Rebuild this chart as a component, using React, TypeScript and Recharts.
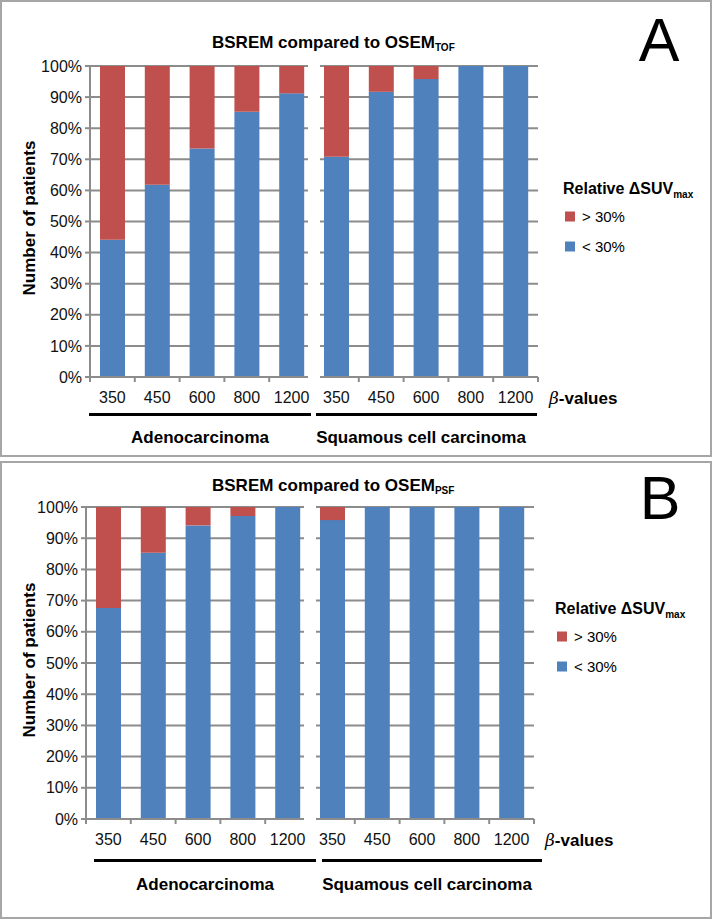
import React from "react";
import { BarChart, Bar, XAxis, YAxis, CartesianGrid } from "recharts";

// beta values, same order in both tumour groups
const BETAS = ["350", "450", "600", "800", "1200"];
const GROUPS = ["Adenocarcinoma", "Squamous cell carcinoma"];
const Y_TICKS = [0, 10, 20, 30, 40, 50, 60, 70, 80, 90, 100];

// panel A: BSREM vs OSEM TOF (% of patients)
const A_ADENO_LOW = [44.1, 61.8, 73.5, 85.3, 91.2];
const A_ADENO_HIGH = [55.9, 38.2, 26.5, 14.7, 8.8];
const A_SQUAM_LOW = [70.8, 91.7, 95.8, 100, 100];
const A_SQUAM_HIGH = [29.2, 8.3, 4.2, 0, 0];

// panel B: BSREM vs OSEM PSF
const B_ADENO_LOW = [67.6, 85.3, 94.1, 97.1, 100];
const B_ADENO_HIGH = [32.4, 14.7, 5.9, 2.9, 0];
const B_SQUAM_LOW = [95.8, 100, 100, 100, 100];
const B_SQUAM_HIGH = [4.2, 0, 0, 0, 0];

const BLUE = "#4F81BD";
const RED = "#C0504D";
const GRID = "#8c8c8c";
const SANS = "'Liberation Sans', Arial, sans-serif";
const TICK_SIZE = 5;
const TICK_MARGIN = 10;

function buildRows(adLow: number[], adHigh: number[], sqLow: number[], sqHigh: number[]) {
  const rows: any[] = [];
  BETAS.forEach((b, i) => rows.push({ key: "ad-" + b, label: b, low: adLow[i], high: adHigh[i] }));
  BETAS.forEach((b, i) => rows.push({ key: "sq-" + b, label: b, low: sqLow[i], high: sqHigh[i] }));
  return rows;
}

const PANELS = [
  {
    letter: "A", sub: "TOF", top: 0, height: 457,
    rows: buildRows(A_ADENO_LOW, A_ADENO_HIGH, A_SQUAM_LOW, A_SQUAM_HIGH),
    plotLeft: 90, plotRight: 538, plotTop: 66, plotBottom: 377,
    titleY: 43, letterX: 659, letterY: 40, legendX: 563, legendY: 190,
    groupLines: [[89, 311], [316, 537]], lineY: 414, groupX: [200, 421], groupY: 438, yLabelY: 218,
  },
  {
    letter: "B", sub: "PSF", top: 461, height: 458,
    rows: buildRows(B_ADENO_LOW, B_ADENO_HIGH, B_SQUAM_LOW, B_SQUAM_HIGH),
    plotLeft: 86, plotRight: 534, plotTop: 507, plotBottom: 819,
    titleY: 486, letterX: 660, letterY: 498, legendX: 555, legendY: 610,
    groupLines: [[94, 316], [322, 542]], lineY: 860, groupX: [205, 427], groupY: 885, yLabelY: 660,
  },
];

function Panel({ p }: { p: any }) {
  const chartTop = p.plotTop - 60;
  const chartW = 560;
  const chartH = p.plotBottom - chartTop + 43;
  const step = (p.plotRight - p.plotLeft) / p.rows.length;
  const gapX = p.plotLeft + step * BETAS.length;

  const renderTick = (props: any) => {
    const { x, y, payload, index } = props;
    const half = payload && payload.offset ? payload.offset : step / 2;
    const ay = y - TICK_SIZE - TICK_MARGIN;
    return (
      <g>
        {index !== BETAS.length && (
          <line x1={x - half} x2={x - half} y1={ay} y2={ay + TICK_SIZE} stroke={GRID} strokeWidth={2} />
        )}
        {index === p.rows.length - 1 && (
          <line x1={x + half} x2={x + half} y1={ay} y2={ay + TICK_SIZE} stroke={GRID} strokeWidth={2} />
        )}
        <text x={x} y={y} dy="0.71em" textAnchor="middle" fontFamily={SANS} fontSize={16} fill="#111">
          {String(payload.value).split("-")[1]}
        </text>
      </g>
    );
  };

  const bold = { fontFamily: SANS, fontWeight: 700, color: "#000" } as const;

  return (
    <>
      <div style={{ position: "absolute", left: 0, top: p.top, width: 712, height: p.height, border: "2px solid #a6a6a6", boxSizing: "border-box" }} />

      <div style={{ position: "absolute", left: 0, top: chartTop }}>
        <BarChart
          width={chartW}
          height={chartH}
          data={p.rows}
          barSize={25}
          margin={{ top: p.plotTop - chartTop, right: chartW - p.plotRight, left: 0, bottom: chartH - (p.plotBottom - chartTop) - 30 }}
        >
          <CartesianGrid vertical={false} stroke={GRID} strokeWidth={2} />
          <XAxis
            dataKey="key"
            height={30}
            interval={0}
            tickLine={false}
            tickSize={TICK_SIZE}
            tickMargin={TICK_MARGIN}
            axisLine={{ stroke: GRID, strokeWidth: 2 }}
            tick={renderTick}
          />
          <YAxis
            type="number"
            domain={[0, 100]}
            ticks={Y_TICKS}
            width={p.plotLeft}
            tickSize={TICK_SIZE}
            tickMargin={3}
            tickFormatter={(v: number) => v + "%"}
            tick={{ fontFamily: SANS, fontSize: 16, fill: "#111" }}
            tickLine={{ stroke: GRID, strokeWidth: 2 }}
            axisLine={{ stroke: GRID, strokeWidth: 2 }}
          />
          <Bar dataKey="low" stackId="s" fill={BLUE} isAnimationActive={false} />
          <Bar dataKey="high" stackId="s" fill={RED} isAnimationActive={false} />
        </BarChart>
      </div>

      {/* white break between the two tumour groups */}
      <div style={{ position: "absolute", left: gapX - 6, top: p.plotTop - 3, width: 12, height: p.plotBottom - p.plotTop + 6, background: "#fff" }} />

      {/* title */}
      <div style={{ ...bold, position: "absolute", left: 212, top: p.titleY, transform: "translateY(-50%)", fontSize: 17, whiteSpace: "nowrap" }}>
        BSREM compared to OSEM<sub style={{ fontSize: 10, verticalAlign: "-0.35em" }}>{p.sub}</sub>
      </div>
      <div style={{ position: "absolute", left: p.letterX, top: p.letterY, transform: "translate(-50%,-50%)", fontFamily: SANS, fontSize: 61, lineHeight: 1 }}>
        {p.letter}
      </div>

      {/* y axis title */}
      <div style={{ ...bold, position: "absolute", left: 30, top: p.yLabelY, transform: "translate(-50%,-50%) rotate(-90deg)", fontSize: 17, whiteSpace: "nowrap" }}>
        Number of patients
      </div>

      {/* beta label */}
      <div style={{ ...bold, position: "absolute", left: p.plotRight + 11, top: p.plotBottom + 21, transform: "translateY(-50%)", fontSize: 17, whiteSpace: "nowrap" }}>
        <span style={{ fontStyle: "italic", fontWeight: 400, fontFamily: "'DejaVu Serif', serif" }}>β</span>-values
      </div>

      {/* group underlines and names */}
      {p.groupLines.map((g: number[], i: number) => (
        <div key={i} style={{ position: "absolute", left: g[0], top: p.lineY - 1, width: g[1] - g[0], height: 2.5, background: "#000" }} />
      ))}
      {GROUPS.map((g, i) => (
        <div key={g} style={{ ...bold, position: "absolute", left: p.groupX[i], top: p.groupY, transform: "translate(-50%,-50%)", fontSize: 17, whiteSpace: "nowrap" }}>
          {g}
        </div>
      ))}

      {/* legend */}
      <div style={{ ...bold, position: "absolute", left: p.legendX, top: p.legendY, transform: "translateY(-50%)", fontSize: 16, whiteSpace: "nowrap" }}>
        Relative ΔSUV<sub style={{ fontSize: 10, verticalAlign: "-0.35em" }}>max</sub>
      </div>
      {[{ c: RED, t: "> 30%" }, { c: BLUE, t: "< 30%" }].map((l, i) => (
        <div key={l.t} style={{ position: "absolute", left: p.legendX + 2, top: p.legendY + 26 + i * 30, transform: "translateY(-50%)", display: "flex", alignItems: "center", fontFamily: SANS, fontSize: 15, whiteSpace: "nowrap" }}>
          <span style={{ display: "inline-block", width: 10, height: 10, background: l.c, marginRight: 7 }} />
          {l.t}
        </div>
      ))}
    </>
  );
}

export default function App() {
  return (
    <div style={{ position: "absolute", left: 0, top: 0, width: 712, height: 919, background: "#fff", overflow: "hidden" }}>
      {PANELS.map((p) => (
        <Panel key={p.letter} p={p} />
      ))}
    </div>
  );
}
